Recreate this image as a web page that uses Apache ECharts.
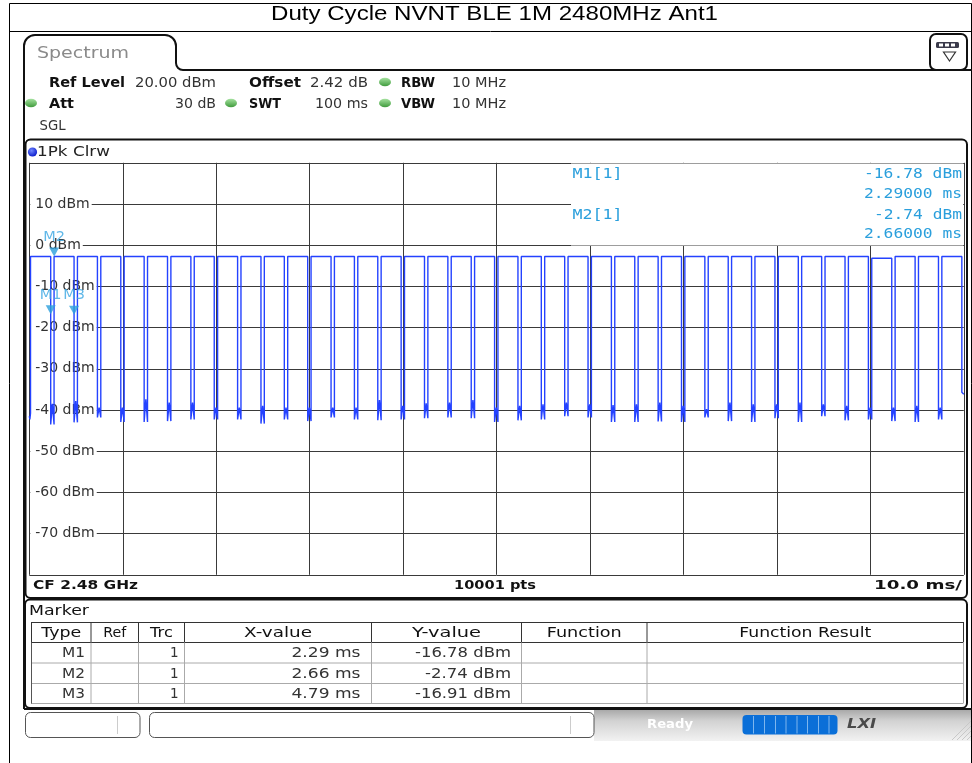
<!DOCTYPE html>
<html><head><meta charset="utf-8">
<script src="https://cdn.jsdelivr.net/npm/echarts/dist/echarts.min.js"></script>
<style>html,body{margin:0;padding:0;background:#fff}#c{width:972px;height:763px}</style>
</head><body><div id="c"></div>
<script>
// ---------- data ----------
const titleText = 'Duty Cycle NVNT BLE 1M 2480MHz Ant1';
// time axis (ms) and level axis (dBm)
const xTicks = [0, 10, 20, 30, 40, 50, 60, 70, 80, 90, 100];
const yTickLabels = ['10 dBm','0 dBm','-10 dBm','-20 dBm','-30 dBm','-40 dBm','-50 dBm','-60 dBm','-70 dBm'];
// trace: start of sweep inside an off-gap
const startTimes = [0, 0.06, 0.13];
const startLevels = [-41.5, -42.3, -40.8];
// falling edges of the bursts (ms)
const gapFall = [2.29, 4.79, 7.29, 9.79, 12.29, 14.79, 17.29, 19.79, 22.29, 24.79,
  27.29, 29.79, 32.29, 34.79, 37.29, 39.79, 42.29, 44.79, 47.29, 49.79,
  52.29, 54.79, 57.29, 59.79, 62.29, 64.79, 67.29, 69.79, 72.29, 74.79,
  77.29, 79.79, 82.29, 84.79, 87.29, 89.79, 92.29, 94.79, 97.29, 99.79];
// rising edges (ms)
const gapRise = [2.65, 5.15, 7.65, 10.15, 12.65, 15.15, 17.65, 20.15, 22.65, 25.15,
  27.65, 30.15, 32.65, 35.15, 37.65, 40.15, 42.65, 45.15, 47.65, 50.15,
  52.65, 55.15, 57.65, 60.15, 62.65, 65.15, 67.65, 70.15, 72.65, 75.15,
  77.65, 80.15, 82.65, 85.15, 87.65, 90.15, 92.65, 95.15, 97.65];
// burst top level (dBm), one per burst
const pulseTop = [-2.74, -2.74, -2.74, -2.74, -2.74, -2.74, -2.74, -2.74, -2.74, -2.74,
  -2.74, -2.74, -2.74, -2.74, -2.74, -2.74, -2.74, -2.74, -2.74, -2.74,
  -2.74, -2.74, -2.74, -2.74, -2.74, -2.74, -2.74, -2.74, -2.74, -2.74,
  -2.74, -2.74, -2.74, -2.74, -2.74, -2.74, -3.15, -2.74, -2.74, -2.74];
// lowest and highest level inside each off-gap (dBm)
const gapMin = [-43.5, -43.0, -41.8, -42.9, -42.9, -42.7, -42.3, -42.3, -42.3, -43.3,
  -42.3, -42.7, -41.8, -42.3, -42.5, -42.3, -42.0, -41.8, -42.0, -42.9,
  -42.5, -42.3, -41.5, -41.8, -42.9, -42.9, -42.8, -42.9, -41.8, -42.7,
  -42.9, -42.0, -42.9, -41.5, -42.5, -42.3, -42.7, -42.9, -42.3];
const gapMax = [-38.5, -37.8, -39.4, -39.4, -37.4, -38.2, -38.2, -39.4, -39.4, -39.0,
  -39.4, -39.4, -39.4, -39.4, -37.6, -39.0, -38.4, -38.2, -37.6, -39.4,
  -39.0, -38.6, -38.2, -38.6, -38.8, -38.6, -38.2, -39.0, -39.8, -38.2,
  -38.6, -38.6, -38.2, -38.6, -39.0, -39.4, -39.4, -39.0, -39.4];
// end of sweep after the last falling edge
const endTimes = [99.79, 100];
const endLevels = [-35.7, -36.2];
// markers
const markerNames = ['M1', 'M2', 'M3'];
const markerTrc = [1, 1, 1];
const markerX = [2.29, 2.66, 4.79];
const markerY = [-16.78, -2.74, -16.91];

// ---------- build trace ----------
const trace = [];
for (let i = 0; i < startTimes.length; i++) trace.push([startTimes[i], startLevels[i]]);
for (let k = 0; k < gapFall.length; k++) {
  const riseT = k === 0 ? startTimes[startTimes.length - 1] : gapRise[k - 1];
  trace.push([riseT, pulseTop[k]]);
  trace.push([gapFall[k], pulseTop[k]]);
  if (k < gapRise.length) {
    trace.push([gapFall[k], gapMin[k]]);
    trace.push([(gapFall[k] + gapRise[k]) / 2, gapMax[k]]);
    trace.push([gapRise[k], gapMin[k]]);
  } else {
    for (let j = 0; j < endTimes.length; j++) trace.push([endTimes[j], endLevels[j]]);
  }
}

// ---------- helpers for the instrument chrome ----------
const G = [];
const mctx = document.createElement('canvas').getContext('2d');
function T(text, x, y, o) {
  o = o || {};
  const fam = o.fam || '"DejaVu Sans"';
  const font = (o.it ? 'italic ' : '') + (o.bold ? 'bold ' : '') + (o.size || 14) + 'px ' + fam;
  let sx = 1;
  if (o.w) { mctx.font = font; const m = mctx.measureText(text).width; if (m > 0) sx = o.w / m; }
  G.push({ type: 'text', x: x, y: y, scaleX: sx, z: o.z || 20, silent: true,
    style: { text: text, font: font, fill: o.color || '#222',
      textAlign: o.align || 'left', textVerticalAlign: 'middle',
      align: o.align || 'left', verticalAlign: 'middle' } });
}
function L(x1, y1, x2, y2, color, w, z) {
  G.push({ type: 'line', silent: true, z: z || 15, shape: { x1: x1, y1: y1, x2: x2, y2: y2 },
    style: { stroke: color, lineWidth: w || 1 } });
}
function R(x, y, w, h, o) {
  G.push({ type: 'rect', silent: true, z: o.z || 15, shape: { x: x, y: y, width: w, height: h, r: o.r || 0 },
    style: { fill: o.fill || 'none', stroke: o.stroke || null, lineWidth: o.lw || 1 } });
}
function A(cx, cy, r, a0, a1, color, w) {
  G.push({ type: 'arc', silent: true, z: 15, shape: { cx: cx, cy: cy, r: r, startAngle: a0, endAngle: a1, clockwise: true },
    style: { stroke: color, lineWidth: w, fill: 'none' } });
}
function LED(cx, cy) {
  G.push({ type: 'circle', silent: true, z: 16, x: cx, y: cy, scaleY: 0.72, shape: { cx: 0, cy: 0, r: 6 },
    style: { fill: { type: 'linear', x: 0, y: 0, x2: 0, y2: 1, colorStops: [{ offset: 0, color: '#a6e3a0' }, { offset: 1, color: '#3f9a3c' }] } } });
}

// outer border and title
R(9.5, 3.5, 962, 800, { stroke: '#000', lw: 1 });
L(9, 31.5, 972, 31.5, '#000', 1);
T(titleText, 494.5, 14, { fam: '"Liberation Sans", Arial', size: 21, color: '#000', align: 'center', w: 447 });

// spectrum window with tab
const PI = Math.PI;
L(24, 46, 24, 709, '#111', 2);
A(35, 46, 11, PI, 1.5 * PI, '#111', 2);
L(35, 35, 165, 35, '#111', 2);
A(165, 46, 11, 1.5 * PI, 2 * PI, '#111', 2);
L(176, 46, 176, 63, '#111', 2);
A(183, 63, 7, 0.5 * PI, PI, '#111', 2);
L(183, 70, 972, 70, '#111', 2);
T('Spectrum', 37, 53.5, { size: 16, color: '#8a8a8a', w: 92 });
// icon box top right
R(930, 34, 37, 36, { r: 6, fill: '#fff', stroke: '#111', lw: 2, z: 16 });
R(936, 42, 23, 6, { r: 1.5, fill: '#3a3a4a', z: 17 });
R(939, 43.5, 4, 3, { fill: '#fff', z: 18 });
R(945, 43.5, 4, 3, { fill: '#fff', z: 18 });
R(951, 43.5, 4, 3, { fill: '#fff', z: 18 });
G.push({ type: 'polygon', silent: true, z: 17, shape: { points: [[943.5, 52], [955.5, 52], [949.5, 61]] }, style: { fill: '#fff', stroke: '#333', lineWidth: 1.2 } });

// header settings
T('Ref Level', 49, 83, { bold: true, size: 13.5, color: '#111', w: 76 });
T('20.00 dBm', 135, 83, { size: 13.5, color: '#333', w: 81 });
T('Offset', 249, 83, { bold: true, size: 13.5, color: '#111', w: 52 });
T('2.42 dB', 310, 83, { size: 13.5, color: '#333', w: 58 });
LED(385, 82);
T('RBW', 401, 83, { bold: true, size: 13.5, color: '#111', w: 34 });
T('10 MHz', 452, 83, { size: 13.5, color: '#333', w: 54 });
LED(31, 103);
T('Att', 49, 104, { bold: true, size: 13.5, color: '#111', w: 25 });
T('30 dB', 216, 104, { size: 13.5, color: '#333', align: 'right', w: 41 });
LED(231, 103);
T('SWT', 249, 104, { bold: true, size: 13.5, color: '#111', w: 32 });
T('100 ms', 315, 104, { size: 13.5, color: '#333', w: 53 });
LED(385, 103);
T('VBW', 401, 104, { bold: true, size: 13.5, color: '#111', w: 34 });
T('10 MHz', 452, 104, { size: 13.5, color: '#333', w: 54 });
T('SGL', 39.5, 126.5, { size: 13.5, color: '#333', w: 26 });

// plot frame
R(25.5, 139.5, 941.5, 458.5, { r: 5, stroke: '#111', lw: 2 });
G.push({ type: 'circle', silent: true, z: 16, shape: { cx: 32.5, cy: 152, r: 4.6 },
  style: { fill: { type: 'radial', x: 0.4, y: 0.35, r: 0.7, colorStops: [{ offset: 0, color: '#6f86ff' }, { offset: 1, color: '#0616c8' }] } } });
T('1Pk Clrw', 37, 152.5, { size: 13.5, color: '#222', w: 73 });
// bottom strip
T('CF 2.48 GHz', 33, 586, { bold: true, size: 12.5, color: '#111', w: 105 });
T('10001 pts', 495, 586, { bold: true, size: 12.5, color: '#111', align: 'center', w: 82 });
T('10.0 ms/', 962, 586, { bold: true, size: 12.5, color: '#111', align: 'right', w: 88 });

// marker info box inside the diagram
R(571, 163.6, 392, 82, { fill: '#fff', z: 10 });
const infoC = '#2a9fdc';
const mono = '"DejaVu Sans Mono"';
T(markerNames[0] + '[' + markerTrc[0] + ']', 572.5, 174, { fam: mono, size: 14, color: infoC, w: 50, z: 21 });
T(markerY[0].toFixed(2) + ' dBm', 962, 174, { fam: mono, size: 14, color: infoC, align: 'right', w: 98, z: 21 });
T(markerX[0].toFixed(5) + ' ms', 962, 194.5, { fam: mono, size: 14, color: infoC, align: 'right', w: 98, z: 21 });
T(markerNames[1] + '[' + markerTrc[1] + ']', 572.5, 215, { fam: mono, size: 14, color: infoC, w: 50, z: 21 });
T(markerY[1].toFixed(2) + ' dBm', 962, 215, { fam: mono, size: 14, color: infoC, align: 'right', w: 88, z: 21 });
T(markerX[1].toFixed(5) + ' ms', 962, 234.5, { fam: mono, size: 14, color: infoC, align: 'right', w: 98, z: 21 });

// marker table
R(25, 599.5, 942, 108.5, { r: 5, stroke: '#111', lw: 2 });
T('Marker', 29, 611.5, { size: 13.5, color: '#111', w: 60 });
const colX = [31, 90.5, 138, 184, 371, 521, 646.5, 963];
const rowY = [622, 642, 662.5, 683, 703];
L(31, 622.5, 963, 622.5, '#333', 1);
L(31, 642.5, 963, 642.5, '#333', 1);
for (let i = 2; i < rowY.length; i++) L(31, rowY[i] + 0.5, 963, rowY[i] + 0.5, '#aaa', 1);
for (let i = 0; i < colX.length; i++) {
  L(colX[i] + 0.5, 622, colX[i] + 0.5, 642.5, '#333', 1);
  L(colX[i] + 0.5, 642.5, colX[i] + 0.5, 703.5, (i === 0) ? '#555' : '#aaa', 1);
}
const headers = ['Type', 'Ref', 'Trc', 'X-value', 'Y-value', 'Function', 'Function Result'];
const headerW = [40, 23, 23, 68, 69, 75, 132];
for (let i = 0; i < headers.length; i++) {
  T(headers[i], (colX[i] + colX[i + 1]) / 2 + 0.5, 633, { size: 14, color: '#111', align: 'center', w: headerW[i] });
}
const rowC = [653.5, 674, 694.5];
for (let i = 0; i < markerNames.length; i++) {
  T(markerNames[i], 85, rowC[i], { size: 13.5, color: '#333', align: 'right', w: 23 });
  T(String(markerTrc[i]), 178.5, rowC[i], { size: 13.5, color: '#333', align: 'right' });
  T(markerX[i].toFixed(2) + ' ms', 360.5, rowC[i], { size: 13.5, color: '#333', align: 'right', w: 69 });
  T(markerY[i].toFixed(2) + ' dBm', 511, rowC[i], { size: 13.5, color: '#333', align: 'right', w: markerY[i] < -10 ? 96 : 86 });
}

// status bar
R(594, 710, 378, 31, { fill: { type: 'linear', x: 0, y: 0, x2: 0, y2: 1, colorStops: [{ offset: 0, color: '#a9a9a9' }, { offset: 0.35, color: '#d2d2d2' }, { offset: 1, color: '#f2f2f2' }] }, z: 12 });
L(24, 709, 972, 709, '#111', 2);
R(25.5, 712.5, 114.5, 25, { r: 5, fill: '#fff', stroke: '#555', lw: 1 });
L(117.5, 716, 117.5, 734, '#ccc', 1);
R(149.5, 712.5, 444.5, 25, { r: 5, fill: '#fff', stroke: '#555', lw: 1 });
L(570.5, 716, 570.5, 734, '#ccc', 1);
T('Ready', 647, 725, { bold: true, size: 13, color: '#ffffff', w: 46 });
R(742.5, 715, 95, 19.5, { r: 4, fill: '#0a6fd8', z: 16 });
const sepX = [753.5, 764.5, 775.5, 786, 797, 807.5, 818.5, 829];
for (let i = 0; i < sepX.length; i++) L(sepX[i], 716, sepX[i], 733.5, '#7db6ee', 1, 17);
T('LXI', 847, 724, { bold: true, it: true, size: 14, color: '#4a4a4a', w: 29 });
for (let i = 0; i < 4; i++) L(952 + i * 5, 740, 971, 721 + i * 5, '#c8c8c8', 1, 13);

// ---------- chart ----------
const chart = echarts.init(document.getElementById('c'), null, { renderer: 'canvas' });
chart.setOption({
  animation: false,
  backgroundColor: '#fff',
  grid: { left: 29.3, top: 162.8, width: 934.5, height: 412, containLabel: false },
  xAxis: { type: 'value', min: xTicks[0], max: xTicks[xTicks.length - 1], interval: xTicks[1] - xTicks[0],
    axisLabel: { show: false }, axisTick: { show: false }, axisLine: { show: false },
    splitLine: { show: true, lineStyle: { color: '#3a3a3a', width: 1 } } },
  yAxis: [
    { type: 'value', min: -80, max: 20, interval: 10, z: 0,
      axisLabel: { show: false }, axisTick: { show: false }, axisLine: { show: false },
      splitLine: { show: true, lineStyle: { color: '#3a3a3a', width: 1 } } },
    { type: 'value', min: -80, max: 20, interval: 10, z: 1, position: 'left', offset: 0,
      axisLine: { show: false }, axisTick: { show: false }, splitLine: { show: false },
      axisLabel: { inside: true, margin: 1, showMinLabel: false, showMaxLabel: false,
        formatter: function (v) { const s = v + ' dBm'; return yTickLabels.indexOf(s) >= 0 ? s : ''; },
        color: '#333', fontSize: 14, fontFamily: 'DejaVu Sans', backgroundColor: '#fff', padding: [1, 2, 1, 5] } }
  ],
  series: [
    { type: 'line', data: trace, xAxisIndex: 0, yAxisIndex: 0, symbol: 'none', showSymbol: false,
      lineStyle: { color: '#2442ff', width: 1.4 }, z: 2, silent: true, clip: true },
    { type: 'scatter', xAxisIndex: 0, yAxisIndex: 0, z: 4, silent: true,
      data: markerNames.map(function (n, i) { return { name: n, value: [markerX[i], markerY[i]] }; }),
      symbol: 'path://M0,0L10,0L5,9Z', symbolSize: [10, 9], symbolOffset: [0, -4.5],
      itemStyle: { color: '#2a9fdc' },
      label: { show: true, position: 'inside', offset: [0, -15], formatter: '{b}',
        color: '#3aa6e2', fontSize: 14.5, fontFamily: 'DejaVu Sans' } }
  ],
  graphic: { elements: G }
});
</script>
</body></html>
